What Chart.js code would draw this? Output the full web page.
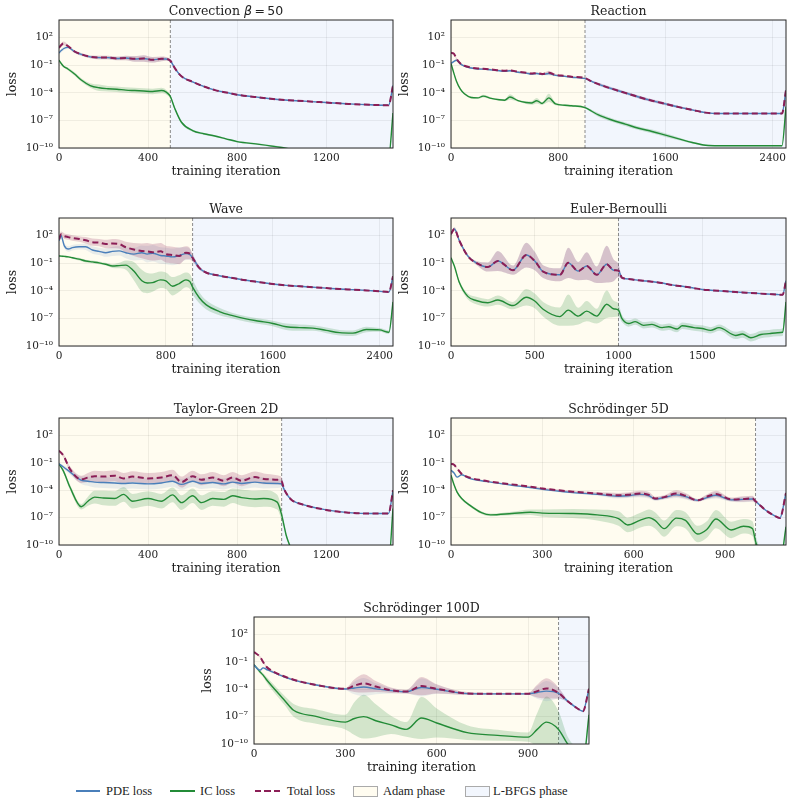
<!DOCTYPE html>
<html>
<head>
<meta charset="utf-8">
<script src="https://cdn.jsdelivr.net/npm/chart.js@4.4.1/dist/chart.umd.min.js"></script>
<style>
  body { margin: 0; background: #fff; }
  #fig { position: relative; width: 792px; height: 806px; overflow: hidden; }
  #fig canvas { position: absolute; }
  .lt { position: absolute; top: 783px; font: 12.5px "Liberation Serif", serif; color: #222; line-height: 16px; white-space: nowrap; }
  .sw { position: absolute; }
</style>
</head>
<body>
<div id="fig">
  <div class="sw" style="left:76px;top:790px;width:24px;height:1.6px;background:#4a7fba"></div>
  <div class="lt" style="left:106px">PDE loss</div>
  <div class="sw" style="left:170px;top:790px;width:25px;height:1.6px;background:#238b37"></div>
  <div class="lt" style="left:200px">IC loss</div>
  <div class="sw" style="left:255px;top:790px;width:26px;height:2px;background:repeating-linear-gradient(90deg,#8b1e56 0 6px,transparent 6px 9.5px)"></div>
  <div class="lt" style="left:287px">Total loss</div>
  <div class="sw" style="left:353px;top:786px;width:23px;height:9px;background:#fffcf0;border:1px solid #aaa"></div>
  <div class="lt" style="left:383px">Adam phase</div>
  <div class="sw" style="left:465px;top:786px;width:23px;height:9px;background:#f2f6fd;border:1px solid #aaa"></div>
  <div class="lt" style="left:493px">L-BFGS phase</div>
</div>
<script>
// all loss values are log10(loss); *Spread = half width of the shaded band in decades
const yTicks = [1e-10, 1e-7, 1e-4, 1e-1, 1e2];

// Convection beta=50
const convTicks = [0, 400, 800, 1200];
const convIter = [0,10,20,40,70,100,140,180,220,260,300,340,380,420,460,480,500,520,550,600,650,700,750,800,900,1000,1100,1200,1300,1400,1480,1500];
const convTotal = [0.9,1.2,1.38,1.1,0.5,0.2,-0.07,-0.15,-0.15,-0.25,-0.2,-0.3,-0.25,-0.4,-0.3,-0.3,-0.5,-1.3,-2.2,-2.8,-3.3,-3.7,-3.95,-4.2,-4.5,-4.75,-4.9,-5.05,-5.2,-5.3,-5.35,-3.2];
const convPde = [0.35,0.6,0.8,0.95,0.48,0.18,-0.08,-0.16,-0.16,-0.26,-0.21,-0.31,-0.26,-0.41,-0.31,-0.31,-0.5,-1.3,-2.2,-2.8,-3.3,-3.7,-3.95,-4.2,-4.5,-4.75,-4.9,-5.05,-5.2,-5.3,-5.35,-3.2];
const convIc = [-0.45,-0.8,-1.1,-1.4,-1.95,-2.6,-3.2,-3.45,-3.55,-3.6,-3.7,-3.75,-3.8,-3.85,-3.75,-3.9,-4.4,-5.7,-7.2,-8.1,-8.45,-8.7,-9.0,-9.3,-9.6,-9.95,-10.4,-10.7,-10.9,-11,-11.1,-6.2];
const convTotalSpread = [0.15,0.2,0.2,0.15,0.15,0.15,0.15,0.2,0.2,0.2,0.25,0.3,0.35,0.3,0.25,0.2,0.15,0.1,0.08,0.06,0.05,0.05,0.05,0.05,0.05,0.05,0.05,0.05,0.05,0.05,0.05,0.05];
const convIcSpread = [0.1,0.1,0.1,0.15,0.2,0.2,0.25,0.35,0.3,0.3,0.3,0.3,0.3,0.3,0.3,0.25,0.2,0.15,0.15,0.12,0.1,0.1,0.1,0.1,0.1,0.1,0.1,0.1,0.1,0.1,0.1,0.1];

// Reaction
const reacTicks = [0, 800, 1600, 2400];
const reacIter = [0,20,40,70,100,150,200,240,300,360,400,440,500,560,600,640,680,730,780,850,900,1000,1050,1100,1200,1300,1400,1500,1600,1700,1800,1900,2000,2200,2400,2470,2500];
const reacTotal = [0.36,0.29,-0.25,-0.8,-1.05,-1.25,-1.35,-1.38,-1.45,-1.55,-1.6,-1.55,-1.7,-1.8,-1.9,-1.85,-1.95,-1.8,-2.05,-2.15,-2.25,-2.4,-2.75,-3.05,-3.55,-4.0,-4.45,-4.85,-5.2,-5.55,-5.85,-6.15,-6.25,-6.25,-6.25,-6.25,-3.7];
const reacPde = [-0.8,-0.6,-0.45,-0.85,-1.1,-1.3,-1.4,-1.42,-1.5,-1.6,-1.65,-1.6,-1.75,-1.85,-1.95,-1.9,-2.0,-1.9,-2.1,-2.2,-2.3,-2.45,-2.75,-3.05,-3.55,-4.0,-4.45,-4.85,-5.2,-5.55,-5.85,-6.15,-6.25,-6.25,-6.25,-6.25,-3.7];
const reacIc = [-0.8,-1.8,-2.7,-3.6,-4.1,-4.5,-4.55,-4.35,-4.6,-4.75,-4.8,-4.45,-4.85,-5.05,-5.1,-4.85,-5.15,-4.55,-5.2,-5.35,-5.4,-5.6,-6.0,-6.4,-6.95,-7.4,-7.85,-8.2,-8.6,-9.0,-9.4,-9.7,-9.75,-9.75,-9.75,-9.75,-5.5];
const reacTotalSpread = [0.1,0.1,0.1,0.1,0.08,0.08,0.08,0.08,0.08,0.08,0.08,0.1,0.08,0.08,0.08,0.1,0.08,0.2,0.1,0.08,0.08,0.08,0.1,0.15,0.15,0.15,0.15,0.15,0.15,0.12,0.1,0.08,0.06,0.05,0.05,0.05,0.05];
const reacIcSpread = [0.05,0.1,0.1,0.1,0.1,0.1,0.1,0.15,0.1,0.1,0.1,0.3,0.1,0.15,0.2,0.3,0.15,0.45,0.15,0.1,0.1,0.1,0.15,0.2,0.2,0.2,0.2,0.2,0.2,0.15,0.1,0.08,0.05,0.05,0.05,0.05,0.05];

// Wave
const waveTicks = [0, 800, 1600, 2400];
const waveIter = [0,15,40,70,100,150,200,250,300,350,400,450,500,560,620,660,700,760,800,850,900,950,980,1000,1050,1100,1200,1300,1400,1500,1600,1700,1800,1900,2000,2100,2200,2300,2400,2470,2500];
const waveTotal = [1.6,2.15,1.95,1.85,1.75,1.65,1.5,1.3,1.25,1.1,1.15,1.1,0.75,0.5,0.35,0.3,0.2,0.3,0.0,-0.1,-0.2,0.15,0.05,-0.4,-1.5,-2.0,-2.35,-2.6,-2.85,-3.05,-3.25,-3.4,-3.5,-3.6,-3.7,-3.8,-3.87,-3.95,-4.05,-4.12,-2.4];
const wavePde = [1.45,2.0,0.9,0.55,0.7,0.8,0.8,0.45,0.3,0.15,0.3,0.35,0.15,0.0,0.15,0.0,0.1,-0.15,-0.2,-0.3,-0.15,0.05,-0.05,-0.4,-1.5,-2.0,-2.35,-2.6,-2.85,-3.05,-3.25,-3.4,-3.5,-3.6,-3.7,-3.8,-3.87,-3.95,-4.05,-4.12,-2.4];
const waveIc = [-0.2,-0.22,-0.25,-0.3,-0.4,-0.55,-0.75,-0.85,-0.95,-1.1,-1.3,-1.25,-1.2,-1.85,-2.9,-3.15,-3.1,-2.8,-2.9,-3.5,-3.2,-2.8,-3.0,-3.6,-4.75,-5.5,-6.25,-6.7,-7.05,-7.3,-7.55,-7.9,-8.0,-8.05,-8.3,-8.55,-8.6,-8.2,-8.25,-8.5,-5.2];
const waveTotalSpread = [0.2,0.3,0.3,0.3,0.3,0.3,0.35,0.4,0.4,0.45,0.5,0.5,0.6,0.7,0.8,0.9,0.9,0.9,0.9,0.9,0.9,0.7,0.6,0.4,0.2,0.1,0.05,0.05,0.05,0.05,0.05,0.05,0.05,0.05,0.05,0.05,0.05,0.05,0.05,0.05,0.05];
const waveIcSpread = [0.1,0.1,0.1,0.1,0.1,0.15,0.15,0.15,0.15,0.15,0.2,0.3,0.5,1.0,1.2,1.1,1.0,0.9,0.9,1.0,0.9,0.8,0.8,0.8,0.6,0.5,0.4,0.3,0.3,0.3,0.3,0.35,0.35,0.3,0.3,0.3,0.3,0.3,0.2,0.2,0.2];

// Euler-Bernoulli
const eulerTicks = [0, 500, 1000, 1500];
const eulerIter = [0,20,50,100,150,220,280,370,450,500,550,650,700,760,810,870,930,970,1000,1020,1060,1100,1150,1200,1260,1300,1350,1380,1450,1500,1550,1600,1700,1740,1790,1850,1900,1950,1980,2000];
const eulerTotal = [2.18,2.73,1.45,-0.2,-0.95,-1.4,-0.75,-1.75,-0.1,-0.75,-1.9,-2.25,-0.95,-1.85,-1.3,-2.25,-1.1,-1.75,-1.8,-2.55,-2.7,-2.8,-2.9,-3.0,-3.15,-3.3,-3.45,-3.5,-3.7,-3.85,-3.93,-4.0,-4.12,-4.17,-4.22,-4.3,-4.35,-4.4,-4.42,-2.9];
const eulerPde = [2.18,2.73,1.45,-0.2,-0.95,-1.4,-0.75,-1.75,-0.1,-0.75,-1.9,-2.25,-0.95,-1.85,-1.3,-2.25,-1.1,-1.75,-1.8,-2.55,-2.7,-2.8,-2.9,-3.0,-3.15,-3.3,-3.45,-3.5,-3.7,-3.85,-3.93,-4.0,-4.12,-4.17,-4.22,-4.3,-4.35,-4.4,-4.42,-2.9];
const eulerIc = [-0.4,-1.3,-3.1,-4.6,-5.05,-5.3,-5.0,-5.6,-4.7,-5.1,-6.0,-6.8,-6.1,-6.75,-6.2,-6.75,-5.45,-5.95,-6.1,-7.0,-7.55,-7.35,-7.75,-7.65,-8.0,-7.9,-8.15,-7.8,-8.0,-8.1,-8.3,-8.0,-8.85,-8.7,-9.1,-8.75,-8.65,-8.55,-8.5,-5.2];
const eulerTotalSpread = [0.2,0.2,0.2,0.15,0.2,0.5,1.1,0.5,1.35,1.0,0.7,0.7,1.65,1.0,1.5,0.9,2.0,1.2,0.7,0.15,0.08,0.05,0.05,0.05,0.05,0.05,0.05,0.05,0.05,0.05,0.05,0.05,0.05,0.05,0.05,0.05,0.05,0.05,0.05,0.05];
const eulerIcSpread = [0.1,0.1,0.2,0.3,0.4,0.4,0.5,0.4,0.9,0.8,0.8,1.0,1.7,0.9,1.1,0.8,1.5,0.9,0.7,0.4,0.35,0.35,0.35,0.35,0.35,0.35,0.35,0.35,0.35,0.35,0.35,0.35,0.4,0.4,0.4,0.4,0.4,0.4,0.4,0.3];

// Taylor-Green 2D
const tgTicks = [0, 400, 800, 1200];
const tgIter = [0,20,50,100,130,160,200,250,290,330,400,460,510,550,600,640,690,740,780,820,880,920,980,1000,1010,1020,1040,1050,1100,1200,1300,1400,1480,1500];
const tgTotal = [0.36,-0.2,-1.7,-2.8,-2.6,-2.45,-2.5,-2.4,-2.7,-2.5,-2.7,-2.6,-2.35,-3.1,-2.45,-2.85,-2.6,-2.95,-2.6,-2.95,-2.55,-2.75,-2.85,-3.0,-3.8,-4.3,-4.95,-5.15,-5.6,-6.15,-6.45,-6.55,-6.55,-4.0];
const tgPde = [-1.1,-1.45,-2.0,-2.9,-3.0,-3.1,-3.15,-3.2,-3.25,-3.2,-3.3,-3.2,-3.0,-3.35,-3.0,-3.25,-3.15,-3.3,-3.1,-3.25,-3.1,-3.2,-3.25,-3.3,-3.85,-4.3,-4.95,-5.15,-5.6,-6.15,-6.45,-6.55,-6.55,-4.0];
const tgIc = [-1.1,-1.9,-3.7,-5.8,-5.2,-4.75,-4.85,-4.9,-4.45,-5.2,-4.9,-5.2,-4.5,-5.35,-4.6,-5.35,-4.9,-5.0,-4.6,-4.8,-4.95,-4.9,-5.3,-6.7,-7.8,-8.9,-10.3,-11,-12,-12,-12,-12,-12,-6.0];
const tgTotalSpread = [0.1,0.2,0.3,0.4,0.5,0.6,0.6,0.6,0.6,0.6,0.6,0.6,0.6,0.6,0.6,0.6,0.6,0.6,0.6,0.6,0.6,0.6,0.5,0.4,0.15,0.1,0.05,0.05,0.05,0.05,0.05,0.05,0.05,0.05];
const tgIcSpread = [0.1,0.2,0.3,0.3,0.5,0.7,0.8,0.8,0.8,0.8,0.8,0.8,0.8,0.8,0.8,0.8,0.8,0.8,0.8,0.9,0.9,0.9,0.8,0.6,0.3,0.2,0.2,0.2,0.2,0.2,0.2,0.2,0.2,0.2];

// Schrodinger 5D
const s5Ticks = [0, 300, 600, 900];
const s5Iter = [0,10,20,35,60,100,130,200,260,300,400,480,550,580,620,650,670,700,740,770,810,840,870,920,960,990,1000,1010,1030,1060,1080,1100];
const s5Total = [-1.1,-1.2,-1.6,-2.2,-2.6,-2.9,-3.05,-3.35,-3.6,-3.8,-4.15,-4.35,-4.55,-4.5,-4.35,-4.5,-4.9,-4.75,-4.35,-4.6,-5.1,-4.7,-4.4,-5.0,-4.95,-4.9,-5.2,-5.5,-6.1,-6.75,-7.05,-4.3];
const s5Pde = [-1.8,-2.1,-2.55,-2.3,-2.7,-2.95,-3.1,-3.45,-3.7,-3.9,-4.25,-4.45,-4.65,-4.6,-4.45,-4.6,-4.95,-4.8,-4.5,-4.7,-5.1,-4.8,-4.55,-5.05,-5.0,-4.95,-5.2,-5.5,-6.1,-6.75,-7.05,-4.3];
const s5Ic = [-2.35,-3.4,-4.2,-4.9,-5.6,-6.45,-6.7,-6.55,-6.4,-6.5,-6.55,-6.7,-7.1,-7.8,-7.3,-7.0,-7.3,-8.2,-7.05,-7.3,-8.8,-8.3,-7.15,-8.35,-7.95,-8.2,-9.6,-10.5,-12,-12,-12,-8.0];
const s5TotalSpread = [0.05,0.05,0.05,0.05,0.05,0.05,0.05,0.05,0.08,0.1,0.1,0.15,0.25,0.25,0.3,0.3,0.2,0.2,0.35,0.3,0.15,0.25,0.35,0.2,0.3,0.3,0.2,0.1,0.05,0.05,0.05,0.05];
const s5IcSpread = [0.05,0.1,0.15,0.15,0.15,0.15,0.15,0.2,0.3,0.4,0.5,0.6,0.8,0.8,0.8,0.9,0.9,0.9,0.9,0.9,0.9,0.9,1.0,0.9,0.8,0.8,0.7,0.5,0.3,0.3,0.3,0.3];

// Schrodinger 100D
const s100Ticks = [0, 300, 600, 900];
const s100Iter = [0,20,30,40,60,100,130,200,300,330,360,400,450,500,550,600,700,800,900,930,960,1000,1030,1060,1080,1100];
const s100Total = [0.08,-0.45,-1.0,-1.5,-2.0,-2.6,-2.95,-3.5,-3.95,-3.6,-3.35,-3.7,-4.1,-4.25,-3.65,-3.95,-4.45,-4.5,-4.5,-4.2,-3.9,-4.4,-5.3,-6.05,-6.4,-3.95];
const s100Pde = [-1.35,-1.9,-1.65,-1.8,-2.1,-2.65,-3.0,-3.5,-3.97,-3.85,-3.75,-3.95,-4.15,-4.27,-3.8,-4.0,-4.47,-4.5,-4.5,-4.35,-4.2,-4.45,-5.3,-6.05,-6.4,-3.95];
const s100Ic = [-1.3,-2.1,-2.45,-2.9,-3.7,-5.2,-6.3,-6.95,-7.6,-7.2,-7.0,-7.45,-7.9,-8.4,-7.15,-7.7,-8.75,-9.05,-9.25,-8.4,-7.6,-8.4,-10.0,-11,-12,-6.8];
const s100TotalSpread = [0.1,0.1,0.1,0.1,0.1,0.1,0.1,0.1,0.1,0.7,1.0,0.6,0.3,0.2,1.0,0.5,0.15,0.1,0.1,0.7,1.1,0.6,0.1,0.05,0.05,0.05];
const s100IcSpread = [0.1,0.2,0.2,0.3,0.4,0.5,0.7,0.8,0.8,1.8,2.4,1.8,1.0,0.8,2.3,1.6,0.8,0.6,0.5,1.8,2.8,2.0,0.8,0.5,0.5,0.5];

const SERIF = '"DejaVu Serif", serif';
const SANS = '"DejaVu Sans", sans-serif';
const PURPLE = '#8b1e56', BLUE = '#4a7fba', GREEN = '#238b37';
const ADAM_BG = '#fffcf0', LBFGS_BG = '#f2f6fd';
const GRID = 'rgba(0,0,0,0.08)';

const panels = [
  { title: [['Convection ', SERIF, ''], ['β', SANS, 'italic '], ['\u2009=\u200950', SANS, '']],
    box: [59, 20, 393, 148], xMax: 1500, switchAt: 500, ticks: convTicks,
    x: convIter, total: convTotal, pde: convPde, ic: convIc, tSp: convTotalSpread, iSp: convIcSpread },
  { title: [['Reaction', SERIF, '']], box: [451, 20, 786, 148], xMax: 2500, switchAt: 1000, ticks: reacTicks,
    x: reacIter, total: reacTotal, pde: reacPde, ic: reacIc, tSp: reacTotalSpread, iSp: reacIcSpread },
  { title: [['Wave', SERIF, '']], box: [59, 218, 393, 346], xMax: 2500, switchAt: 1000, ticks: waveTicks,
    x: waveIter, total: waveTotal, pde: wavePde, ic: waveIc, tSp: waveTotalSpread, iSp: waveIcSpread },
  { title: [['Euler-Bernoulli', SERIF, '']], box: [451, 218, 786, 346], xMax: 2000, switchAt: 1000, ticks: eulerTicks,
    x: eulerIter, total: eulerTotal, pde: eulerPde, ic: eulerIc, tSp: eulerTotalSpread, iSp: eulerIcSpread },
  { title: [['Taylor-Green 2D', SERIF, '']], box: [59, 418, 393, 545], xMax: 1500, switchAt: 1000, ticks: tgTicks,
    x: tgIter, total: tgTotal, pde: tgPde, ic: tgIc, tSp: tgTotalSpread, iSp: tgIcSpread },
  { title: [['Schrödinger 5D', SERIF, '']], box: [451, 418, 786, 545], xMax: 1100, switchAt: 1000, ticks: s5Ticks,
    x: s5Iter, total: s5Total, pde: s5Pde, ic: s5Ic, tSp: s5TotalSpread, iSp: s5IcSpread },
  { title: [['Schrödinger 100D', SERIF, '']], box: [254, 617, 589, 744], xMax: 1100, switchAt: 1000, ticks: s100Ticks,
    x: s100Iter, total: s100Total, pde: s100Pde, ic: s100Ic, tSp: s100TotalSpread, iSp: s100IcSpread }
];

const SUP = { '-': '⁻', '0': '⁰', '1': '¹', '2': '²', '3': '³', '4': '⁴', '5': '⁵', '6': '⁶', '7': '⁷', '8': '⁸', '9': '⁹' };
function powLabel(v) {
  const e = String(Math.round(Math.log10(v)));
  return '10' + e.split('').map(c => SUP[c]).join('');
}

function pts(xs, ys, sp, sign) {
  return xs.map((x, i) => ({ x, y: Math.pow(10, ys[i] + (sp ? sign * sp[i] : 0)) }));
}

// backgrounds, phase switch line, frame and title
const decor = {
  id: 'panelDecor',
  beforeDraw(chart, args, o) {
    const { ctx, chartArea: a } = chart;
    const xs = chart.scales.x.getPixelForValue(o.switchAt);
    ctx.save();
    ctx.fillStyle = ADAM_BG;
    ctx.fillRect(a.left, a.top, xs - a.left, a.height);
    ctx.fillStyle = LBFGS_BG;
    ctx.fillRect(xs, a.top, a.right - xs, a.height);
    ctx.restore();
  },
  beforeDatasetsDraw(chart, args, o) {
    const { ctx, chartArea: a } = chart;
    const xs = chart.scales.x.getPixelForValue(o.switchAt);
    ctx.save();
    ctx.strokeStyle = '#8a8a8a';
    ctx.lineWidth = 1;
    ctx.setLineDash([3, 2]);
    ctx.beginPath();
    ctx.moveTo(xs, a.top);
    ctx.lineTo(xs, a.bottom);
    ctx.stroke();
    ctx.restore();
  },
  afterDatasetsDraw(chart, args, o) {
    const { ctx, chartArea: a } = chart;
    ctx.save();
    ctx.strokeStyle = '#262626';
    ctx.lineWidth = 1;
    ctx.strokeRect(a.left, a.top, a.right - a.left, a.bottom - a.top);
    ctx.fillStyle = '#222';
    ctx.textBaseline = 'middle';
    let w = 0;
    o.title.forEach(([t, fam, st]) => { ctx.font = st + '12.5px ' + fam; w += ctx.measureText(t).width; });
    let x = (a.left + a.right) / 2 - w / 2;
    o.title.forEach(([t, fam, st]) => {
      ctx.font = st + '12.5px ' + fam;
      ctx.fillText(t, x, a.top - 8);
      x += ctx.measureText(t).width;
    });
    ctx.restore();
  }
};

const fig = document.getElementById('fig');

panels.forEach(p => {
  const [L, T, R, B] = p.box;
  const cv = document.createElement('canvas');
  cv.width = R - L + 59 + 6;
  cv.height = B - T + 20 + 36;
  cv.style.left = (L - 59) + 'px';
  cv.style.top = (T - 20) + 'px';
  fig.appendChild(cv);

  const line = (data, color, width, dash, order) => ({
    data, borderColor: color, borderWidth: width, borderDash: dash, pointRadius: 0,
    fill: false, order, cubicInterpolationMode: 'monotone'
  });
  const bandDs = (data, target, color, order) => ({
    data, borderWidth: 0, borderColor: 'transparent', pointRadius: 0, fill: target,
    backgroundColor: color, order, cubicInterpolationMode: 'monotone'
  });

  new Chart(cv, {
    type: 'line',
    data: {
      datasets: [
        line(pts(p.x, p.total), PURPLE, 2, [6, 3.5], 0),
        line(pts(p.x, p.pde), BLUE, 1.4, [], 1),
        line(pts(p.x, p.ic), GREEN, 1.4, [], 2),
        bandDs(pts(p.x, p.total, p.tSp, 1), false, 'transparent', 10),
        bandDs(pts(p.x, p.total, p.tSp, -1), 3, 'rgba(139,30,86,0.2)', 10),
        bandDs(pts(p.x, p.pde, p.tSp, 1), false, 'transparent', 11),
        bandDs(pts(p.x, p.pde, p.tSp, -1), 5, 'rgba(74,127,186,0.12)', 11),
        bandDs(pts(p.x, p.ic, p.iSp, 1), false, 'transparent', 12),
        bandDs(pts(p.x, p.ic, p.iSp, -1), 7, 'rgba(35,139,55,0.2)', 12)
      ]
    },
    options: {
      responsive: false,
      animation: false,
      events: [],
      layout: { padding: { left: 0, top: 20, right: 6, bottom: 0 } },
      plugins: {
        legend: { display: false },
        tooltip: { enabled: false },
        panelDecor: { title: p.title, switchAt: p.switchAt }
      },
      scales: {
        x: {
          type: 'linear', min: 0, max: p.xMax,
          afterBuildTicks: s => { s.ticks = p.ticks.map(v => ({ value: v })); },
          afterFit: s => { s.height = 36; },
          grid: { color: GRID, lineWidth: 0.8, drawTicks: false },
          border: { display: false },
          ticks: { font: { family: SERIF, size: 10.5 }, color: '#222', padding: 4, maxRotation: 0, autoSkip: false, callback: v => String(v) },
          title: { display: true, text: 'training iteration', font: { family: SERIF, size: 12.5 }, color: '#222', padding: { top: 0, bottom: 4.5 } }
        },
        y: {
          type: 'logarithmic', min: 1e-10, max: Math.pow(10, 3.93),
          afterBuildTicks: s => { s.ticks = yTicks.map(v => ({ value: v })); },
          afterFit: s => { s.width = 59; },
          grid: { color: GRID, lineWidth: 0.8, drawTicks: false },
          border: { display: false },
          ticks: { font: { family: SERIF, size: 10.5 }, color: '#222', padding: 6, autoSkip: false, callback: v => powLabel(v) },
          title: { display: true, text: 'loss', font: { family: SERIF, size: 12.5 }, color: '#222', padding: { top: 5.5, bottom: 0 } }
        }
      }
    },
    plugins: [decor]
  });
});
</script>
</body>
</html>
